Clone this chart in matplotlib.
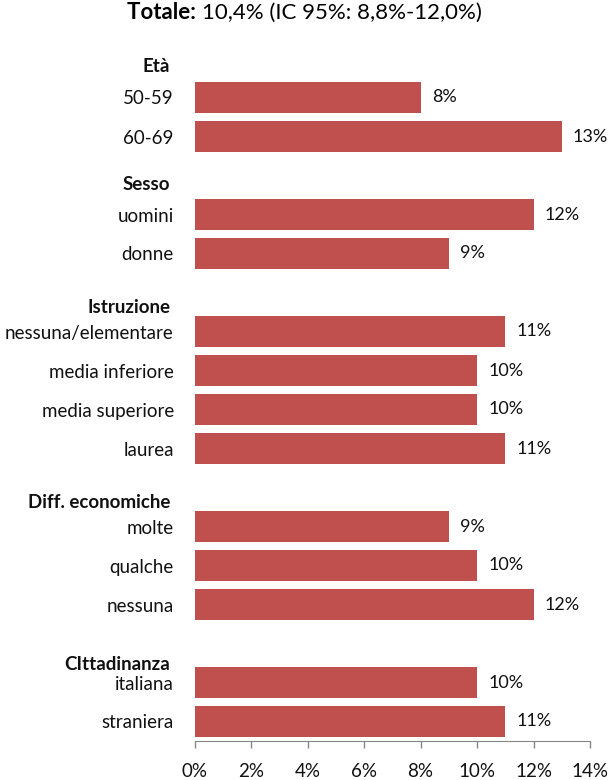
import numpy as np
import matplotlib.pyplot as plt
import matplotlib.transforms as mtransforms

plt.rcParams['font.family'] = ['Lato', 'DejaVu Sans']

# righe del grafico (dall'alto), le intestazioni di gruppo hanno valore None
labels = ['', '50-59', '60-69',
          '', 'uomini', 'donne',
          '', 'nessuna/elementare', 'media inferiore', 'media superiore', 'laurea',
          '', 'molte', 'qualche', 'nessuna',
          '', 'italiana', 'straniera']
values = [None, 8, 13,
          None, 12, 9,
          None, 11, 10, 10, 11,
          None, 9, 10, 12,
          None, 10, 11]
headers = ['Età', 'Sesso', 'Istruzione', 'Diff. economiche', 'CIttadinanza']
header_rows = [0, 3, 6, 11, 15]
header_shift = [0.35, 0.37, 0.53, 0.53, 0.68]
xticks = [0, 2, 4, 6, 8, 10, 12, 14]

col = '#C0504D'
fs = 13.5

fig = plt.figure(figsize=(6.09, 7.80), dpi=100)
ax = fig.add_axes([194.7/609, 1-741/780, (590-194.7)/609, (741-39)/780])

y = np.arange(len(labels))
for yi, v in zip(y, values):
    if v is None:
        continue
    ax.barh(yi, v, height=0.77, color=col)
    ax.annotate(f'{v}%', (v, yi), xytext=(8, 0), textcoords='offset points',
                ha='left', va='center', fontsize=13, color='#111111')

ax.set_ylim(len(labels)-0.5, -0.5)
ax.set_xlim(0, 14)
ax.set_yticks(y)
ax.set_yticklabels(labels, fontsize=fs, color='#111111')
ax.tick_params(axis='y', length=0, pad=15)
ax.set_xticks(xticks)
ax.set_xticklabels([f'{t}%' for t in xticks], fontsize=fs, color='#111111')
ax.tick_params(axis='x', length=5, width=1, color='#868686', pad=11, direction='out')
for s in ['top', 'right', 'left']:
    ax.spines[s].set_visible(False)
ax.spines['bottom'].set_color('#868686')

trans = mtransforms.blended_transform_factory(ax.transAxes, ax.transData)
for h, r, sh in zip(headers, header_rows, header_shift):
    ax.text(-0.062, r + sh, h, transform=trans, ha='right', va='baseline',
            fontsize=fs, fontweight='bold', color='#111111')

# titolo: "Totale:" in grassetto, il resto normale, centrato
renderer = fig.canvas.get_renderer()
t1 = fig.text(0, 0, 'Totale: ', fontsize=16, fontweight='bold', va='baseline')
t2 = fig.text(0, 0, '10,4% (IC 95%: 8,8%-12,0%)', fontsize=16, va='baseline')
w1 = t1.get_window_extent(renderer).width
w2 = t2.get_window_extent(renderer).width
x0 = (609 - w1 - w2) / 2
yb = 1 - 19/780
t1.set_position((x0/609, yb))
t2.set_position(((x0 + w1)/609, yb))

fig.savefig('out.png', dpi=100)
